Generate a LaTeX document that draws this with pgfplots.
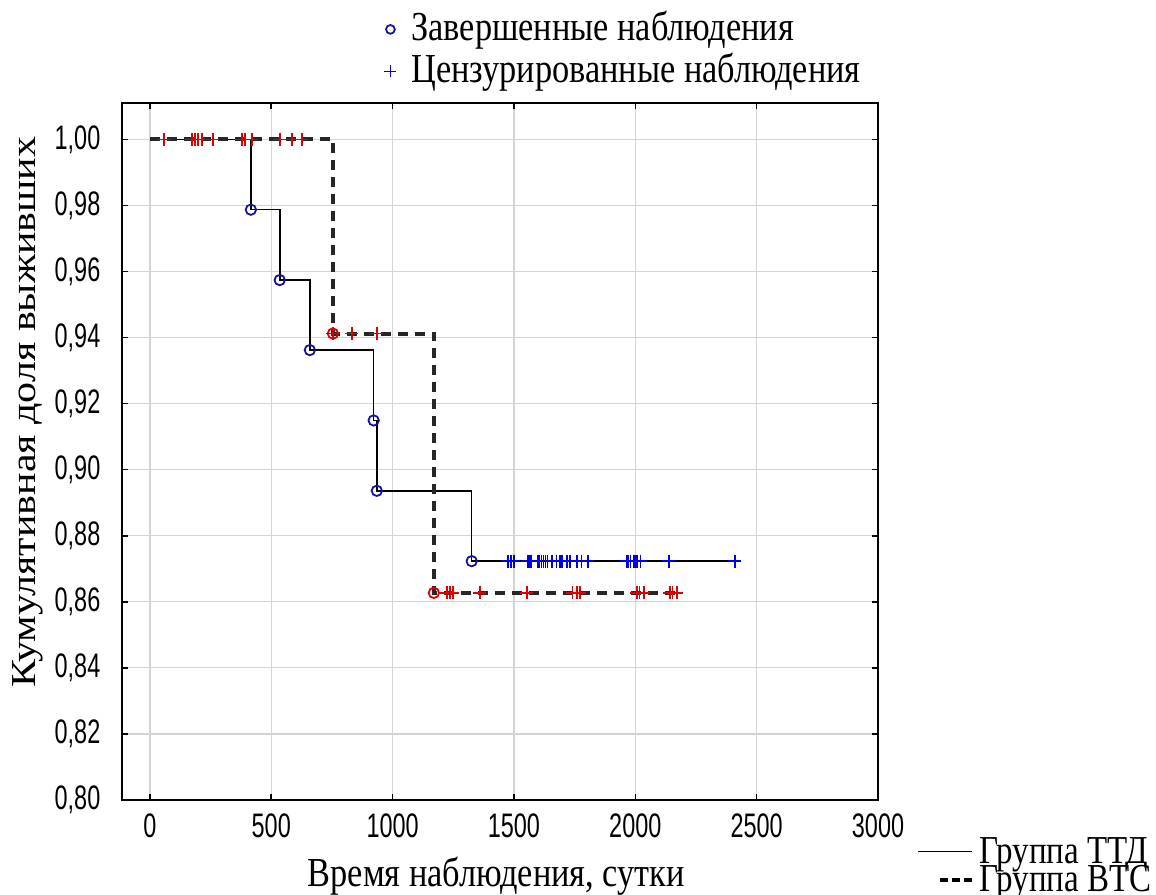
\documentclass[border=0pt]{standalone}
\usepackage{fontspec}
\setmainfont{Liberation Serif}
\newfontfamily\hserif[FakeStretch=0.833]{Liberation Serif}
\newfontfamily\vserif[FakeStretch=1.2]{Liberation Serif}
\newfontfamily\tickfont[FakeStretch=0.69]{Liberation Sans}
\usepackage{pgfplots}
\pgfplotsset{compat=1.18}
\definecolor{evtBlue}{RGB}{20,20,160}
\definecolor{cenBlue}{RGB}{0,0,230}
\definecolor{cenRed}{RGB}{225,0,0}
\definecolor{gridGray}{RGB}{212,212,212}
\tikzset{
  ttd/.style={black,line width=0.75pt},
  btc/.style={black!85,line width=2pt,dash pattern=on 5pt off 3.5pt},
  evt/.style={only marks,mark=o,mark size=2.6pt,mark options={line width=0.9pt,solid}},
  cen/.style={only marks,mark=+,mark size=3.3pt,mark options={line width=0.8pt,solid}},
}
\begin{document}
\begin{tikzpicture}
\path[use as bounding box] (-61pt,-47pt) rectangle (517pt,400pt);
\begin{axis}[
  scale only axis, width=378pt, height=348.5pt,
  xmin=-115, xmax=3000, ymin=0.80, ymax=1.011,
  xtick={0,500,...,3000}, ytick={0.80,0.82,...,1.001},
  grid=major, major grid style={gridGray,line width=0.6pt},
  axis line style={line width=1pt},
  tick align=inside, major tick length=3pt, tick style={black,line width=0.8pt},
  /pgf/number format/assume math mode=true,
  tick label style={font=\fontsize{17}{19}\tickfont},
  yticklabel style={/pgf/number format/fixed,/pgf/number format/fixed zerofill,
    /pgf/number format/precision=2,/pgf/number format/use comma,xshift=-7.3pt},
  xticklabel style={/pgf/number format/1000 sep={},yshift=-3.3pt},
  xlabel={Время наблюдения, сутки},
  ylabel={Кумулятивная доля выживших},
  xlabel style={font=\fontsize{20.6}{23}\hserif,at={(axis description cs:0.495,-0.1248)},anchor=base},
  ylabel style={font=\fontsize{17.5}{20}\vserif,at={(axis description cs:-0.124,0.5566)},anchor=center},
  legend style={at={(axis description cs:1.0516,-0.0562)},anchor=north west,
    draw=none,fill=none,inner sep=0pt,row sep=-1pt,
    nodes={inner sep=0pt,text height=12pt,text depth=3pt},
    /tikz/every odd column/.style={column sep=3pt},
    font=\fontsize{19.8}{22}\hserif},
  legend cell align=left,
]
% Kaplan--Meier steps
\addplot[ttd,const plot,forget plot] coordinates {
  (0,1) (416,0.9787) (535,0.9574) (659,0.9362) (922,0.9149) (935,0.8936) (1326,0.8723) (2410,0.8723)};
\addplot[btc,const plot,forget plot] coordinates {
  (0,1) (754,0.9412) (1170,0.8627) (2171,0.8627)};
% censored, BTC
\addplot[cen,cenRed,forget plot] coordinates {
  (58,1) (173,1) (185,1) (198,1) (214,1) (259,1) (379,1) (391,1) (420,1) (535,1) (585,1) (626,1)
  (754,0.9412) (832,0.9412) (935,0.9412)
  (1223,0.8627) (1236,0.8627) (1248,0.8627) (1359,0.8627) (1553,0.8627) (1742,0.8627) (1759,0.8627)
  (1771,0.8627) (2006,0.8627) (2018,0.8627) (2035,0.8627) (2142,0.8627) (2154,0.8627) (2171,0.8627)};
% censored, TTD
\addplot[cen,cenBlue,forget plot] coordinates {
  (1475,0.8723) (1487,0.8723) (1499,0.8723) (1557,0.8723) (1565,0.8723) (1573,0.8723) (1598,0.8723)
  (1606,0.8723) (1614,0.8723) (1622,0.8723) (1630,0.8723) (1639,0.8723) (1656,0.8723) (1676,0.8723)
  (1689,0.8723) (1697,0.8723) (1718,0.8723) (1730,0.8723) (1759,0.8723) (1779,0.8723) (1804,0.8723)
  (1965,0.8723) (1972,0.8723) (1980,0.8723) (1994,0.8723) (2000,0.8723) (2006,0.8723) (2022,0.8723)
  (2138,0.8723) (2410,0.8723)};
% completed observations
\addplot[evt,evtBlue,forget plot] coordinates {
  (416,0.9787) (535,0.9574) (659,0.9362) (922,0.9149) (935,0.8936) (1326,0.8723)};
\addplot[evt,cenRed,forget plot] coordinates {(754,0.9412) (1170,0.8627)};
\addlegendimage{legend image code/.code={\draw[black,line width=0.75pt] (0pt,1.5pt) -- (27pt,1.5pt);}}
\addlegendentry{Группа ТТД}
\addlegendimage{legend image code/.code={\path[draw=none] (0pt,1.5pt) -- (27pt,1.5pt);
  \draw[black,line width=2pt,dash pattern=on 3.8pt off 2.2pt] (11pt,1.5pt) -- (26.8pt,1.5pt);}}
\addlegendentry{Группа ВТС}
\end{axis}
\begin{axis}[
  scale only axis, width=378pt, height=348.5pt, hide axis,
  xmin=0, xmax=1, ymin=0, ymax=1,
  legend image code/.code={\path[draw=none] (-5pt,0pt) -- (5pt,0pt);
    \draw[#1] plot coordinates {(0pt,0pt)};},
  legend style={at={(axis description cs:0.3413,1.1334)},anchor=north west,
    draw=none,fill=none,inner sep=0pt,row sep=2pt,
    nodes={inner sep=0pt,text height=15pt,text depth=4pt},
    /tikz/every odd column/.style={column sep=5.5pt},
    font=\fontsize{20.6}{23}\hserif},
  legend cell align=left,
]
\addlegendimage{only marks,mark=o,mark size=2.2pt,evtBlue,mark options={line width=0.9pt}}
\addlegendentry{Завершенные наблюдения}
\addlegendimage{only marks,mark=+,mark size=3pt,cenBlue,mark options={line width=0.6pt}}
\addlegendentry{Цензурированные наблюдения}
\end{axis}
\end{tikzpicture}
\end{document}
